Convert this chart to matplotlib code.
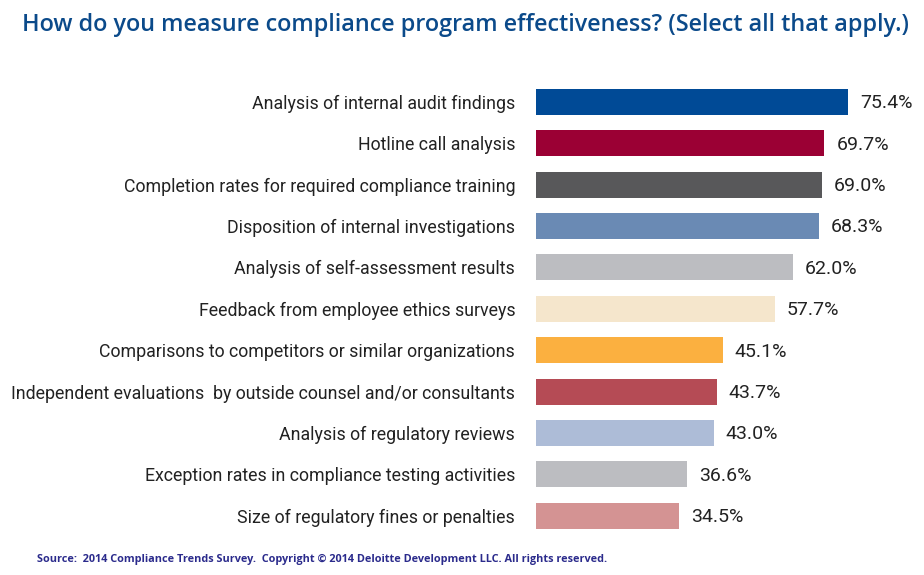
import matplotlib
matplotlib.use("Agg")
import matplotlib.pyplot as plt

categories = [
    "Analysis of internal audit findings",
    "Hotline call analysis",
    "Completion rates for required compliance training",
    "Disposition of internal investigations",
    "Analysis of self-assessment results",
    "Feedback from employee ethics surveys",
    "Comparisons to competitors or similar organizations",
    "Independent evaluations  by outside counsel and/or consultants",
    "Analysis of regulatory reviews",
    "Exception rates in compliance testing activities",
    "Size of regulatory fines or penalties",
]
values = [75.4, 69.7, 69.0, 68.3, 62.0, 57.7, 45.1, 43.7, 43.0, 36.6, 34.5]
colors = ["#004a96", "#9b0034", "#58585a", "#6a8ab4", "#bcbdc1", "#f5e6cc",
          "#fbb040", "#b54b55", "#adbcd7", "#bcbdc1", "#d49393"]

plt.rcParams['font.family'] = ['Open Sans', 'DejaVu Sans']

fig = plt.figure(figsize=(9.24, 5.75), dpi=100)
ax = fig.add_axes([536 / 924, (575 - 536.5) / 575, 1 - 536 / 924, 455.4 / 575])

ypos = list(range(len(categories)))
ax.barh(ypos, values, height=0.63, color=colors)
ax.set_ylim(len(categories) - 0.5, -0.5)
ax.set_xlim(0, (924 - 536) / 4.138)

for y, v in zip(ypos, values):
    ax.annotate(f"{v:.1f}%", (v, y), xytext=(8.6, -1), textcoords="offset points",
                va="center", ha="left", fontsize=14, color="#222222",
                family=["Roboto", "DejaVu Sans"])

ax.set_yticks(ypos)
ax.set_yticklabels(categories, fontsize=12.8, color="#222222",
                   family=["Roboto", "DejaVu Sans"])
ax.tick_params(axis="y", length=0, pad=15)
ax.set_xticks([])
for s in ax.spines.values():
    s.set_visible(False)

fig.text(22 / 924, 1 - 25 / 575, "How do you measure compliance program effectiveness? (Select all that apply.)",
         fontsize=16.8, color="#0b4a8a", va="center", ha="left", fontweight="semibold")
fig.text(37 / 924, 1 - 559 / 575,
         "Source:  2014 Compliance Trends Survey.  Copyright \u00a9 2014 Deloitte Development LLC. All rights reserved.",
         fontsize=7.8, color="#2b2b8c", va="center", ha="left", fontweight="bold")

fig.savefig("out.png", dpi=100)
